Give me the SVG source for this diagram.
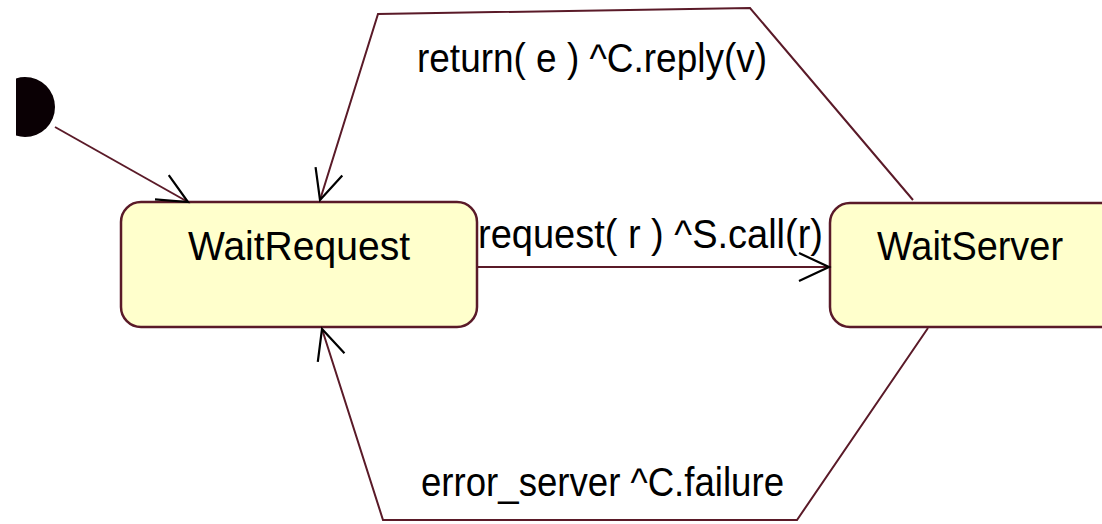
<svg xmlns="http://www.w3.org/2000/svg" width="1102" height="524" viewBox="0 0 1102 524">
<style>
.state{fill:#ffffcc;stroke:#5a1a28;stroke-width:2.5}
.conn{fill:none;stroke:#5a1a28;stroke-width:2}
.txt{font-family:"Liberation Sans",Arial,sans-serif;font-size:40px;fill:#000}
</style>
<defs>
<marker id="arr" markerUnits="userSpaceOnUse" orient="auto" refX="0" refY="0" markerWidth="40" markerHeight="40" viewBox="-36 -18 40 36" overflow="visible">
<path d="M-30,-14 L0,0 L-30,14" fill="none" stroke="#000" stroke-width="2.2"/>
</marker>
<clipPath id="clipL"><rect x="16" y="0" width="200" height="200"/></clipPath>
</defs>
<rect width="1102" height="524" fill="#fff"/>
<g id="initial">
<ellipse cx="25" cy="107" rx="30" ry="30" fill="#0a0004" clip-path="url(#clipL)"/>
</g>
<g id="WaitRequest">
<rect class="state" x="121" y="202" width="356" height="125" rx="20" ry="20"/>
<text class="txt" x="188" y="260" textLength="222" lengthAdjust="spacingAndGlyphs">WaitRequest</text>
</g>
<g id="WaitServer">
<rect class="state" x="830" y="203" width="290" height="124" rx="20" ry="20"/>
<text class="txt" x="877" y="260" textLength="186" lengthAdjust="spacingAndGlyphs">WaitServer</text>
</g>
<g id="connectors">
<path class="conn" d="M55,127 L188,202" marker-end="url(#arr)"/>
<path class="conn" d="M477,267 L829,267" marker-end="url(#arr)"/>
<path class="conn" d="M913,200 L750,8 L378,14 L320,200" marker-end="url(#arr)"/>
<path class="conn" d="M928,328 L797,520 L383,520 L322,329" marker-end="url(#arr)"/>
</g>
<g id="labels">
<text class="txt" x="478" y="248" textLength="345" lengthAdjust="spacingAndGlyphs">request( r ) ^S.call(r)</text>
<text class="txt" x="417" y="72" textLength="350" lengthAdjust="spacingAndGlyphs">return( e ) ^C.reply(v)</text>
<text class="txt" x="421" y="496" textLength="363" lengthAdjust="spacingAndGlyphs">error_server ^C.failure</text>
</g>
</svg>
